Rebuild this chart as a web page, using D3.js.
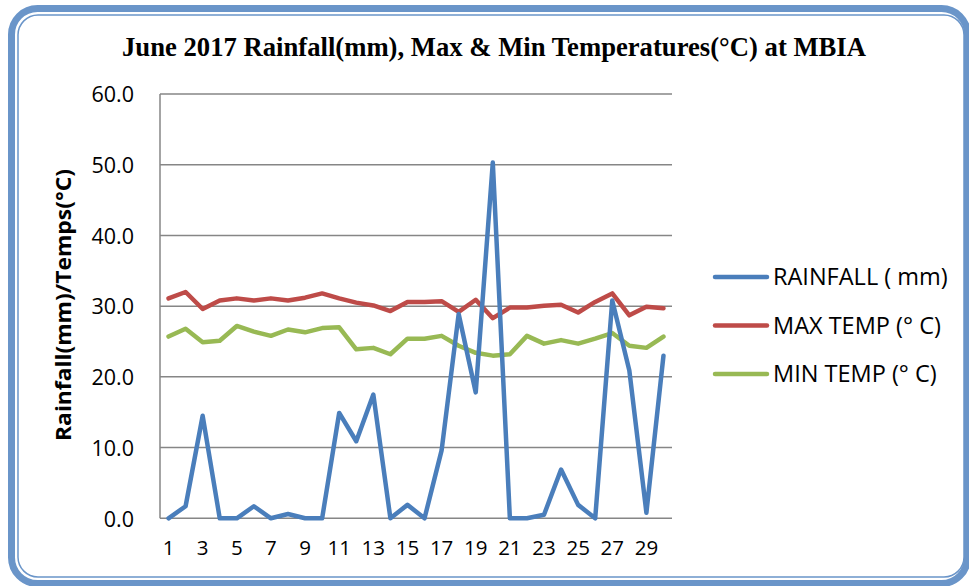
<!DOCTYPE html>
<html><head><meta charset="utf-8">
<script src="https://cdn.jsdelivr.net/npm/d3@7"></script>
<style>body{margin:0;background:#fff}svg{display:block}</style>
</head><body>
<svg id="c" width="969" height="586"></svg>
<script>
const days = d3.range(1, 31);
const rainfall = [0,1.7,14.5,0,0,1.7,0,0.6,0,0,14.9,10.9,17.5,0,1.9,0,9.6,28.9,17.8,50.3,0,0,0.5,6.9,1.9,0,30.8,20.9,0.8,23.0];
const maxTemp = [31.1,32.0,29.6,30.8,31.1,30.8,31.1,30.8,31.2,31.8,31.1,30.5,30.1,29.3,30.6,30.6,30.7,29.2,30.9,28.3,29.8,29.8,30.05,30.2,29.1,30.6,31.8,28.7,29.9,29.7];
const minTemp = [25.7,26.8,24.9,25.1,27.2,26.4,25.8,26.7,26.3,26.9,27.0,23.9,24.1,23.2,25.4,25.4,25.8,24.4,23.4,23.0,23.2,25.8,24.7,25.2,24.7,25.4,26.2,24.4,24.1,25.7];
const yTicks = [0,10,20,30,40,50,60];
const seriesNames = ["RAINFALL ( mm)", "MAX TEMP (° C)", "MIN TEMP (° C)"];
const seriesColors = ["#4a7ebb", "#be4b48", "#98b954"];
const title = "June 2017 Rainfall(mm), Max & Min Temperatures(°C) at MBIA";
const yTitle = "Rainfall(mm)/Temps(°C)";

const svg = d3.select("#c");
// frame
svg.append("rect").attr("x",11.5).attr("y",8.5).attr("width",956).attr("height",575)
  .attr("rx",26).attr("fill","none").attr("stroke","#6a95c9").attr("stroke-width",7);
svg.append("rect").attr("x",18).attr("y",15).attr("width",946).attr("height",562)
  .attr("rx",20).attr("fill","#fff").attr("stroke","#6a95c9").attr("stroke-width",1.5);

const L = 160, R = 672, T = 94, B = 518.3;
const x = d3.scaleBand().domain(days).range([L, R]);
const y = d3.scaleLinear().domain([0, 60]).range([B, T]);
const cx = d => x(d) + x.bandwidth()/2;

// gridlines
svg.append("g").selectAll("line").data(yTicks).join("line")
  .attr("x1", L).attr("x2", R).attr("y1", d => y(d)).attr("y2", d => y(d))
  .attr("stroke", "#868686").attr("stroke-width", 1.5);
svg.append("line").attr("x1", L).attr("x2", L).attr("y1", T).attr("y2", B)
  .attr("stroke", "#868686").attr("stroke-width", 1.5);

// y labels
const yAxis = d3.axisLeft(y).tickValues(yTicks).tickFormat(d3.format(".1f")).tickSize(0).tickPadding(0);
const ya = svg.append("g").attr("transform", `translate(${134},0)`).call(yAxis);
ya.select(".domain").remove();
ya.selectAll("text").attr("font-family","'Open Sans', sans-serif").attr("font-size",21.5).attr("fill","#000").attr("dy","0.36em");

// x labels
const xAxis = d3.axisBottom(x).tickValues(days.filter(d => d % 2 === 1)).tickSize(0).tickPadding(0);
const xa = svg.append("g").attr("transform", `translate(0,${540})`).call(xAxis);
xa.select(".domain").remove();
xa.selectAll("text").attr("font-family","'Open Sans', sans-serif").attr("font-size",20.5).attr("fill","#000");

// lines
const series = [rainfall, maxTemp, minTemp];
const line = d3.line().x((d,i) => cx(days[i])).y(d => y(d)).curve(d3.curveLinear);
[1,2,0].forEach(k => {
  svg.append("path").datum(series[k]).attr("d", line).attr("fill","none")
    .attr("stroke", seriesColors[k]).attr("stroke-width", 4.5)
    .attr("stroke-linejoin","round").attr("stroke-linecap","round");
});

// legend
const lg = svg.append("g");
const ly = [277, 325.5, 374];
seriesNames.forEach((n, i) => {
  lg.append("line").attr("x1", 715).attr("x2", 767).attr("y1", ly[i]).attr("y2", ly[i])
    .attr("stroke", seriesColors[i]).attr("stroke-width", 4.5).attr("stroke-linecap","round");
  lg.append("text").attr("x", 773).attr("y", ly[i]).attr("dy","0.36em")
    .attr("font-family","'Open Sans', sans-serif").attr("font-size",23.5).attr("fill","#000").text(n);
});

// title
svg.append("text").attr("x", 494).attr("y", 56).attr("text-anchor","middle")
  .attr("font-family","'Liberation Serif', serif").attr("font-weight","bold").attr("font-size",26.5)
  .attr("textLength", 744).attr("lengthAdjust","spacingAndGlyphs").text(title);

// y title
svg.append("text").attr("transform","translate(71,305) rotate(-90)").attr("text-anchor","middle")
  .attr("font-family","'Open Sans', sans-serif").attr("font-weight","bold").attr("font-size",21)
  .attr("textLength", 272).attr("lengthAdjust","spacingAndGlyphs").text(yTitle);
</script>
</body></html>
